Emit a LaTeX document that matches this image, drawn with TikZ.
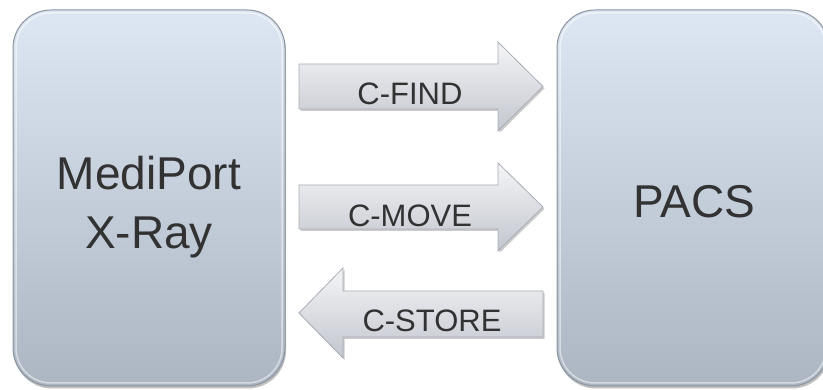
\documentclass[tikz,border=0pt]{standalone}
\usepackage{fontspec}
\setmainfont{Liberation Sans}
\usetikzlibrary{positioning}
\definecolor{boxtop}{RGB}{221,231,243}
\definecolor{boxbot}{RGB}{172,182,194}
\definecolor{boxedge}{RGB}{140,148,158}
\definecolor{arrtop}{RGB}{245,245,247}
\definecolor{arrbot}{RGB}{194,198,206}
\definecolor{arredge}{RGB}{168,172,180}
\definecolor{txtgray}{RGB}{50,50,50}

\begin{document}
\begin{tikzpicture}[x=1pt,y=-1pt,
  box/.style={draw=boxedge,line width=1pt,rounded corners=38pt,
    top color=boxtop,bottom color=boxbot,
    preaction={fill=black,opacity=0.25,transform canvas={shift={(1pt,-2.5pt)}}}},
  blockarrow/.style={draw=arredge,line width=0.8pt,top color=arrtop,bottom color=arrbot,
    preaction={fill=black,opacity=0.2,transform canvas={shift={(1.5pt,-2pt)}}}},
  bigtext/.style={text=txtgray,inner sep=0pt,align=center,font=\fontsize{46}{59}\selectfont},
  arrtext/.style={text=txtgray,inner sep=0pt,anchor=base,font=\fontsize{31}{37}\selectfont}]
\useasboundingbox (0,0) rectangle (823,390);
\draw[box] (13,10) rectangle (285,386);
\draw[box] (557,10) rectangle (829,386);
\draw[white,opacity=0.5,line width=1.5pt,rounded corners=35pt] (16,13) rectangle (282,383);
\draw[white,opacity=0.5,line width=1.5pt,rounded corners=35pt] (560,13) rectangle (826,383);
\node[bigtext] (mediport) at (149,207) {MediPort\\X-Ray};
\node[bigtext,anchor=base] (pacs) at (694,218) {PACS};
\draw[blockarrow] (299,64) -- (498,64) -- (498,42) -- (543,86.5) -- (498,131) -- (498,109) -- (299,109) -- cycle;
\draw[blockarrow] (299,185) -- (498,185) -- (498,163) -- (543,207) -- (498,251) -- (498,229) -- (299,229) -- cycle;
\draw[blockarrow] (543,291) -- (343,291) -- (343,268) -- (299,313) -- (343,358) -- (343,337) -- (543,337) -- cycle;
\node[arrtext] (cfind) at (410,105) {C-FIND};
\node[arrtext] (cmove) at (410,227) {C-MOVE};
\node[arrtext] (cstore) at (432,332) {C-STORE};
\end{tikzpicture}
\end{document}
